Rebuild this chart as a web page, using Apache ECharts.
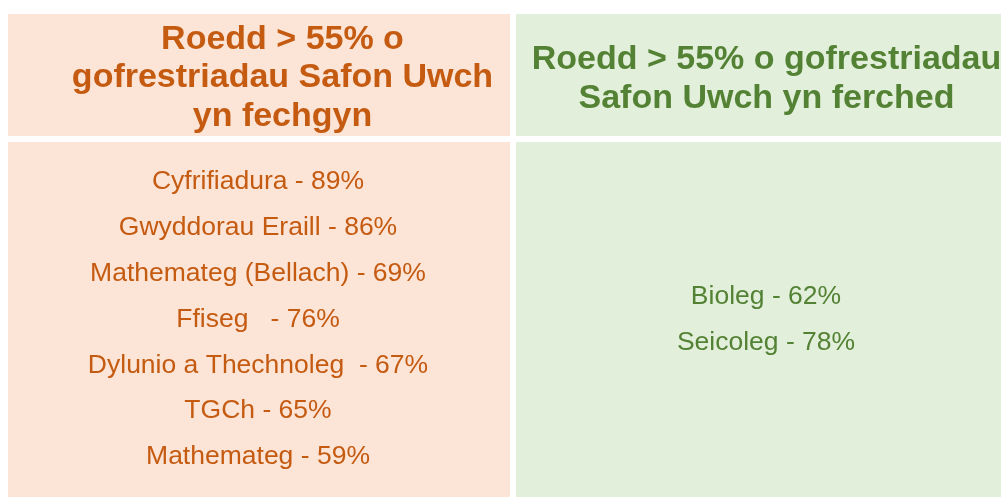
<!DOCTYPE html>
<html>
<head>
<meta charset="utf-8">
<script src="https://cdn.jsdelivr.net/npm/echarts@6/dist/echarts.min.js"></script>
<style>
  html, body { margin: 0; padding: 0; background: #fff; }
  #main { width: 1001px; height: 497px; }
</style>
</head>
<body>
<div id="main"></div>
<script>
// Penawdau'r ddwy golofn
const headers = [
    'Roedd > 55% o\ngofrestriadau Safon Uwch\nyn fechgyn',
    'Roedd > 55% o gofrestriadau\nSafon Uwch yn ferched'
];

// Pynciau lle roedd > 55% yn fechgyn
const boysSubjects = ['Cyfrifiadura', 'Gwyddorau Eraill', 'Mathemateg (Bellach)', 'Ffiseg  ',
    'Dylunio a Thechnoleg ', 'TGCh', 'Mathemateg'];
const boysPct = [89, 86, 69, 76, 67, 65, 59];

// Pynciau lle roedd > 55% yn ferched
const girlsSubjects = ['Bioleg', 'Seicoleg'];
const girlsPct = [62, 78];

const FILLS = ['#FCE4D6', '#E2EFDA'];
const INKS = ['#C55A11', '#548235'];
const FONT = "'Liberation Sans', Arial, sans-serif";
const ROWS = boysSubjects.length;
const GAP = 6;
const COL_W = 508;            // lled colofn + bwlch, px
const X_MAX = 993 / COL_W;    // mae'r ail golofn yn mynd dros yr ymyl dde

const chart = echarts.init(document.getElementById('main'));

// celloedd cefndir, un i bob colofn
function renderCell(params, api) {
    const col = api.value(0);
    const cs = params.coordSys;
    const x0 = api.coord([col, 0])[0];
    const x1 = api.coord([col + 1, 0])[0];
    return {
        type: 'rect',
        shape: { x: x0, y: cs.y, width: x1 - x0 - GAP, height: cs.height },
        style: { fill: FILLS[col] }
    };
}

// testun wedi'i ganoli yn y gell; dx/dy yn fân addasiadau i bob colofn
function makeText(size, bold, lineHeight, dx, dy) {
    return function (params, api) {
        const col = api.value(0);
        const x0 = api.coord([col, 0])[0];
        const x1 = api.coord([col + 1, 0])[0];
        const y = api.coord([0, api.value(1)])[1];
        return {
            type: 'text',
            x: (x0 + x1 - GAP) / 2 + dx[col],
            y: y + dy[col],
            style: {
                text: api.value(2),
                fill: INKS[col],
                fontSize: size,
                fontFamily: FONT,
                fontWeight: bold ? 'bold' : 'normal',
                lineHeight: lineHeight,
                align: 'center',
                verticalAlign: 'middle'
            }
        };
    };
}

function bodyData(subjects, pct, col) {
    const start = (ROWS - subjects.length) / 2;
    return subjects.map((s, i) => [col, start + i, `${s} - ${pct[i]}%`]);
}

const option = {
    animation: false,
    backgroundColor: '#ffffff',
    grid: [
        { left: 8, top: 14, right: 0, height: 122 },
        { left: 8, top: 142, right: 0, height: 355 }
    ],
    xAxis: [
        { type: 'value', gridIndex: 0, min: 0, max: X_MAX, show: false },
        { type: 'value', gridIndex: 1, min: 0, max: X_MAX, show: false }
    ],
    yAxis: [
        { type: 'value', gridIndex: 0, min: 0, max: 1, show: false },
        { type: 'value', gridIndex: 1, min: -0.873, max: 6.873, inverse: true, show: false }
    ],
    series: [
        {
            type: 'custom', xAxisIndex: 0, yAxisIndex: 0, clip: false,
            renderItem: renderCell, data: [[0], [1]], silent: true, z: 1
        },
        {
            type: 'custom', xAxisIndex: 1, yAxisIndex: 1, clip: false,
            renderItem: renderCell, data: [[0], [1]], silent: true, z: 1
        },
        {
            type: 'custom', xAxisIndex: 0, yAxisIndex: 0, clip: false, silent: true, z: 5,
            renderItem: makeText(34, true, 38.5, [23.5, -0.5], [3, 4]),
            data: headers.map((h, i) => [i, 0.5, h]),
            dimensions: ['col', 'row', { name: 'text', type: 'ordinal' }]
        },
        {
            type: 'custom', xAxisIndex: 1, yAxisIndex: 1, clip: false, silent: true, z: 5,
            renderItem: makeText(26.5, false, 30, [-1, -1], [0, 0]),
            data: bodyData(boysSubjects, boysPct, 0).concat(bodyData(girlsSubjects, girlsPct, 1)),
            dimensions: ['col', 'row', { name: 'text', type: 'ordinal' }]
        }
    ]
};

chart.setOption(option);
</script>
</body>
</html>
